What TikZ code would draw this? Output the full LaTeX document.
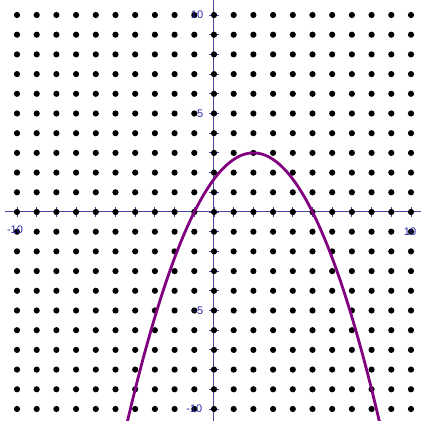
\documentclass[tikz,border=0pt]{standalone}
\usepackage{fontspec}
\setmainfont{Liberation Sans}
\begin{document}
\begin{tikzpicture}[x=19.7pt,y=19.7pt,
  axisline/.style={draw={rgb,255:red,70;green,70;blue,160},line width=1pt},
  tickmark/.style={draw={rgb,255:red,70;green,70;blue,160},line width=0.9pt},
  dotmark/.style={fill=black,draw=none},
  axlabel/.style={text={rgb,255:red,40;green,40;blue,170},font=\fontsize{11}{12}\selectfont,inner sep=0pt},
  curveline/.style={draw={rgb,255:red,128;green,0;blue,128},line width=2.8pt}]
\useasboundingbox[fill=white] (-10.863,-10.609) rectangle (10.508,10.761);
\clip (-10.863,-10.609) rectangle (10.508,10.761);
% axes
\coordinate (xl) at (-10.6,0);
\coordinate (xr) at (10.508,0);
\coordinate (yb) at (0,-10.609);
\coordinate (yt) at (0,10.761);
\draw[axisline] (xl) -- (xr);
\draw[axisline] (yb) -- (yt);
% ticks
\foreach \i in {-10,...,10}{
  \draw[tickmark] (\i,-0.23) -- (\i,0.23);
  \draw[tickmark] (-0.23,\i) -- (0.23,\i);
}
% dots
\foreach \i in {-10,...,10}{
  \foreach \j in {-10,...,10}{
    \fill[dotmark] (\i,\j) circle (3.1pt);
  }
}
% labels
\node[axlabel] (lxm) at (-10.1,-0.91) {-10};
\node[axlabel] (lxp) at (9.95,-1.0) {10};
\node[axlabel] (lyt) at (-0.86,10) {10};
\node[axlabel] (ly5) at (-0.7,5) {5};
\node[axlabel] (lym5) at (-0.8,-5) {-5};
\node[axlabel] (lym10) at (-1.0,-10) {-10};
% parabola
\draw[curveline,domain=-4.45:8.45,samples=120,smooth] plot (\x,{3-(\x-2)*(\x-2)/3});
\end{tikzpicture}
\end{document}
